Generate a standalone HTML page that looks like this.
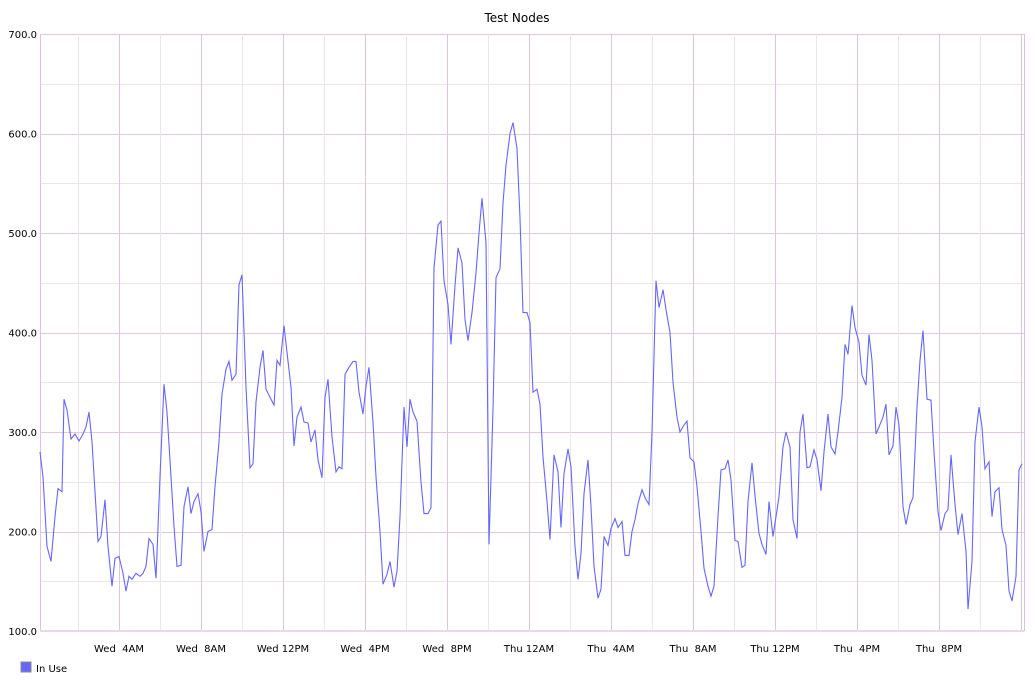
<!DOCTYPE html>
<html><head><meta charset="utf-8"><style>
body{margin:0;background:#fff;width:1034px;height:680px;overflow:hidden;font-family:"DejaVu Sans","Liberation Sans",sans-serif}
svg text{font-family:"DejaVu Sans","Liberation Sans",sans-serif}
</style></head><body>
<svg id="s" width="1034" height="680" xmlns="http://www.w3.org/2000/svg">
<text x="517" y="22" font-size="12" text-anchor="middle" fill="#000">Test Nodes</text>
<g id="grid" shape-rendering="crispEdges"></g>
<g id="lab" font-size="10" fill="#000"></g>
<polyline id="line" fill="none" stroke="#6666ff" stroke-width="1.1" points=""/>
<rect x="21" y="662" width="10" height="10" fill="#6666ff" stroke="#888" stroke-width="1"/>
<text x="36" y="672" font-size="10">In Use</text>
</svg>
<script>
var L=40,R=1024,T=34,B=631;
function Y(v){return B-(v-100)*(B-T)/600;}
var g='',lab='';
for(var v=100;v<=700;v+=50){var y=Math.round(Y(v))+0.5;var major=v%100==0;
g+='<line x1="'+L+'" x2="'+R+'" y1="'+y+'" y2="'+y+'" stroke="'+(major?'#e0c8e0':'#ebe4eb')+'" stroke-width="1"/>';
if(major)lab+='<text x="37" y="'+(Y(v)+4)+'" text-anchor="end">'+v.toFixed(1)+'</text>';}
var names=['Wed  4AM','Wed  8AM','Wed 12PM','Wed  4PM','Wed  8PM','Thu 12AM','Thu  4AM','Thu  8AM','Thu 12PM','Thu  4PM','Thu  8PM'];
for(var i=0;i<12;i++){var x=119+82*i;if(x<R){g+='<line x1="'+(x+0.5)+'" x2="'+(x+0.5)+'" y1="'+T+'" y2="'+B+'" stroke="#dcc4dc"/>';}
if(i<11)lab+='<text x="'+x+'" y="652" text-anchor="middle" xml:space="preserve">'+names[i]+'</text>';}
for(var x=78;x<R;x+=82)g+='<line x1="'+(x+0.5)+'" x2="'+(x+0.5)+'" y1="'+T+'" y2="'+B+'" stroke="#eee4ee"/>';
g+='<line x1="'+(L+0.5)+'" x2="'+(L+0.5)+'" y1="'+T+'" y2="'+B+'" stroke="#e0c0e0"/><line x1="'+(R+0.5)+'" x2="'+(R+0.5)+'" y1="'+T+'" y2="'+B+'" stroke="#e0c0e0"/>';
g+='<line x1="'+L+'" x2="'+R+'" y1="'+B+'" y2="'+B+'" stroke="#e8d8e8" stroke-width="2"/>';
document.getElementById('grid').innerHTML=g;document.getElementById('lab').innerHTML=lab;
var d=[40,280,43,255,47,185,51,170,55,215,58,243,62,240,64,333,67,322,71,293,75,298,79,291,83,298,86,305,89,320,92,290,95,240,98,190,101,195,105,232,108,185,112,145,115,173,119,175,123,158,126,140,129,155,132,152,136,158,140,155,143,158,146,165,149,193,153,187,156,153,160,255,164,348,167,320,171,255,174,205,177,165,181,166,184,225,188,245,191,218,194,230,198,238,201,220,204,180,208,200,212,202,215,245,219,290,222,338,226,363,229,371,232,352,236,358,239,448,242,458,246,345,250,264,253,268,256,330,260,365,263,382,266,343,270,335,274,327,277,372,280,367,284,407,287,380,291,345,294,286,297,315,301,325,304,310,308,309,311,290,315,302,318,272,322,254,325,335,328,353,332,295,336,260,339,265,342,263,345,358,349,365,353,371,356,371,359,340,363,318,366,346,369,365,373,310,376,255,380,200,383,147,387,157,390,170,394,144,397,160,400,215,404,325,407,285,410,333,413,320,417,311,421,250,424,218,428,218,431,224,434,465,438,508,441,512,444,452,448,428,451,388,455,447,458,485,462,470,465,413,468,392,472,420,476,460,479,500,482,535,486,490,489,187,493,323,496,455,500,464,503,530,506,568,510,600,513,611,517,585,520,515,523,420,527,420,530,410,533,340,537,343,540,328,543,275,547,230,550,192,554,277,558,260,561,204,564,258,568,283,571,265,575,185,578,152,581,178,584,238,588,272,591,225,594,165,598,133,601,142,604,195,608,186,611,203,615,213,618,204,622,210,625,176,629,176,632,200,635,212,638,228,642,242,645,234,649,227,652,300,656,452,659,425,663,443,666,423,670,400,673,350,677,315,680,300,684,307,687,311,690,274,694,270,697,245,701,200,704,163,708,145,711,135,714,145,718,215,721,262,725,263,728,272,731,252,735,191,738,190,742,164,745,166,748,230,752,269,755,236,759,198,762,187,766,177,769,230,773,195,776,215,779,235,783,285,786,300,790,285,793,212,797,193,800,300,803,318,807,264,810,265,814,282,817,272,821,241,824,280,828,318,831,285,835,278,838,300,842,335,845,388,848,378,852,427,855,405,859,390,862,357,866,347,869,398,872,372,876,298,879,305,883,315,886,328,889,277,893,286,896,325,899,307,903,225,906,207,910,227,913,234,917,325,920,372,923,402,927,333,931,332,934,280,938,220,941,201,945,218,948,222,951,277,955,227,958,197,962,218,966,180,968,122,972,170,975,290,979,325,982,305,985,263,989,270,992,215,995,240,999,244,1002,202,1006,186,1009,140,1012,130,1016,155,1019,262,1022,268];
var p=[];for(var i=0;i<d.length;i+=2)p.push(d[i]+','+Y(d[i+1]).toFixed(1));
document.getElementById('line').setAttribute('points',p.join(' '));
</script>
</body></html>
